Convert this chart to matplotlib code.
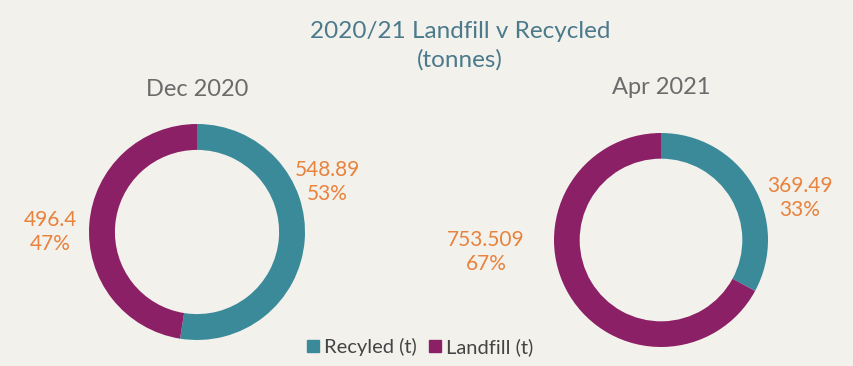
import matplotlib.pyplot as plt

months = ["Dec 2020", "Apr 2021"]
recycled = [548.89, 369.49]
landfill = [496.4, 753.509]
recycled_labels = ["548.89\n53%", "369.49\n33%"]
landfill_labels = ["496.4\n47%", "753.509\n67%"]
series_names = ["Recyled (t)", "Landfill (t)"]

BG = "#f3f1ec"
TEAL = "#3a8a99"
PURPLE = "#8b2066"
ORANGE = "#e8823c"

plt.rcParams["font.family"] = ["Lato", "DejaVu Sans"]

W, H = 854, 366
fig = plt.figure(figsize=(W / 100, H / 100), dpi=100, facecolor=BG)

# donut centre (px from top-left), radius in px, label positions in px
layout = [
    dict(cx=197, cy=232, r=108, rec_xy=(327, 182), land_xy=(50, 232), sub_y=90),
    dict(cx=661, cy=240, r=107, rec_xy=(800, 198), land_xy=(486, 252), sub_y=87),
]

for i, lay in enumerate(layout):
    r = lay["r"]
    ax = fig.add_axes([(lay["cx"] - r) / W, (H - lay["cy"] - r) / H, 2 * r / W, 2 * r / H])
    ax.set_facecolor("none")
    ax.pie(
        [recycled[i], landfill[i]],
        colors=[TEAL, PURPLE],
        startangle=90,
        counterclock=False,
        radius=1.0,
        wedgeprops=dict(width=0.24, edgecolor="none"),
    )
    ax.set_xlim(-1, 1)
    ax.set_ylim(-1, 1)
    ax.axis("off")

    fig.text(lay["rec_xy"][0] / W, 1 - lay["rec_xy"][1] / H, recycled_labels[i],
             ha="center", va="center", color=ORANGE, fontsize=15, linespacing=1.25)
    fig.text(lay["land_xy"][0] / W, 1 - lay["land_xy"][1] / H, landfill_labels[i],
             ha="center", va="center", color=ORANGE, fontsize=15, linespacing=1.25)
    fig.text(lay["cx"] / W, 1 - lay["sub_y"] / H, months[i],
             ha="center", va="center", color="#6b6b6b", fontsize=17)

fig.text(460 / W, 1 - 32 / H, "2020/21 Landfill v Recycled", ha="center", va="center",
         color="#4b7a8c", fontsize=17.5)
fig.text(460 / W, 1 - 60 / H, "(tonnes)", ha="center", va="center",
         color="#4b7a8c", fontsize=17.5)

handles = [plt.Rectangle((0, 0), 1, 1, color=c) for c in (TEAL, PURPLE)]
fig.legend(handles, series_names, loc="center", bbox_to_anchor=(420 / W, 1 - 347 / H),
           ncol=2, frameon=False, fontsize=14.5, handlelength=0.6, handleheight=0.6,
           handletextpad=0.25, columnspacing=0.6, labelcolor="#444444")

fig.savefig("out.png", dpi=100, facecolor=BG)
